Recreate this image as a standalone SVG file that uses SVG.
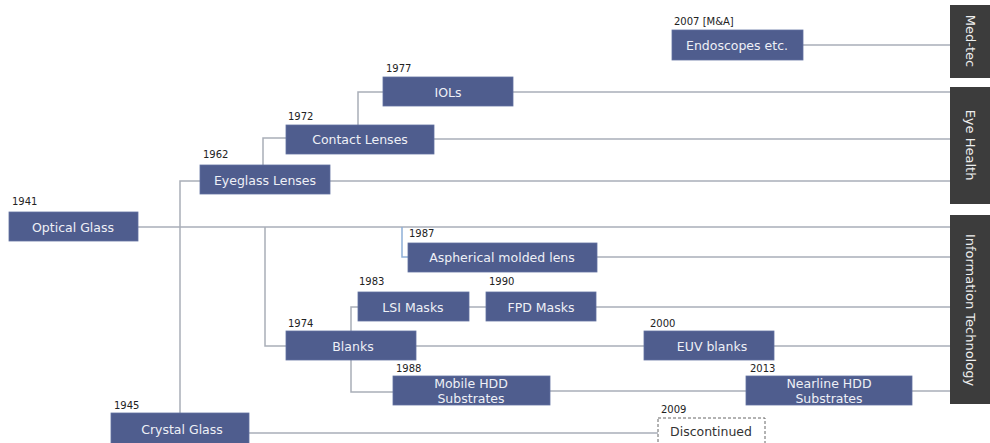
<svg xmlns="http://www.w3.org/2000/svg" width="990" height="443" viewBox="0 0 990 443">
<style>
.box{fill:#4f5d8e;stroke:#6272a0;stroke-width:0.8}
.bt{font-family:"DejaVu Sans",Verdana,sans-serif;font-size:12.5px;fill:#eef0f6;text-anchor:middle}
.yr{font-family:"DejaVu Sans",Verdana,sans-serif;font-size:10px;fill:#222}
.bar{fill:#3c3c3c}
.st{font-family:"DejaVu Sans",Verdana,sans-serif;font-size:13px;fill:#eeeeee;text-anchor:middle}
.ln{fill:none;stroke:#a9aeb8;stroke-width:1.5}
.lb{fill:none;stroke:#8fb0d8;stroke-width:1.5}
</style>
<rect width="990" height="443" fill="#ffffff"/>
<g id="connectors">
<path class="ln" d="M138 227H950"/>
<path class="ln" d="M180 413V181H200"/>
<path class="ln" d="M330 181H950"/>
<path class="ln" d="M263 165V138H286"/>
<path class="ln" d="M434 139H950"/>
<path class="ln" d="M358 125V92H383"/>
<path class="ln" d="M513 92H950"/>
<path class="ln" d="M803 45H950"/>
<path class="ln" d="M265 227V346H286"/>
<path class="lb" d="M402 227V257H408"/>
<path class="ln" d="M597 257H950"/>
<path class="ln" d="M351 331V307H358"/>
<path class="ln" d="M351 360V392H393"/>
<path class="ln" d="M469 307H486"/>
<path class="ln" d="M596 307H950"/>
<path class="ln" d="M416 346H644"/>
<path class="ln" d="M774 346H950"/>
<path class="ln" d="M550 391H746"/>
<path class="ln" d="M912 391H950"/>
<path class="ln" d="M249 433H658"/>
</g>
<g id="med-tec"><rect class="bar" x="950" y="5" width="40" height="73"/><text class="st" transform="translate(966 41) rotate(90)">Med-tec</text></g>
<g id="eye-health"><rect class="bar" x="950" y="87" width="40" height="117"/><text class="st" transform="translate(966 145) rotate(90)">Eye Health</text></g>
<g id="information-technology"><rect class="bar" x="950" y="215" width="40" height="189"/><text class="st" transform="translate(966 310) rotate(90)">Information Technology</text></g>
<g id="optical-glass"><text class="yr" x="12" y="205">1941</text><rect class="box" x="9" y="212" width="129" height="29"/><text class="bt" x="73" y="231.5">Optical Glass</text></g>
<g id="eyeglass-lenses"><text class="yr" x="203" y="158">1962</text><rect class="box" x="200" y="165" width="130" height="29"/><text class="bt" x="265" y="184.5">Eyeglass Lenses</text></g>
<g id="contact-lenses"><text class="yr" x="288" y="120">1972</text><rect class="box" x="286" y="125" width="148" height="29"/><text class="bt" x="360" y="144">Contact Lenses</text></g>
<g id="iols"><text class="yr" x="386" y="72">1977</text><rect class="box" x="383" y="77" width="130" height="29"/><text class="bt" x="448" y="96.5">IOLs</text></g>
<g id="endoscopes"><text class="yr" x="674" y="25">2007 [M&amp;A]</text><rect class="box" x="672" y="30" width="131" height="30"/><text class="bt" x="737" y="50">Endoscopes etc.</text></g>
<g id="aspherical"><text class="yr" x="409" y="237">1987</text><rect class="box" x="408" y="243" width="189" height="29"/><text class="bt" x="502" y="262">Aspherical molded lens</text></g>
<g id="lsi-masks"><text class="yr" x="359" y="285">1983</text><rect class="box" x="358" y="292" width="111" height="29"/><text class="bt" x="413" y="311.5">LSI Masks</text></g>
<g id="fpd-masks"><text class="yr" x="489" y="285">1990</text><rect class="box" x="486" y="292" width="110" height="29"/><text class="bt" x="541" y="311.5">FPD Masks</text></g>
<g id="blanks"><text class="yr" x="288" y="327">1974</text><rect class="box" x="286" y="331" width="130" height="29"/><text class="bt" x="353" y="350.5">Blanks</text></g>
<g id="euv-blanks"><text class="yr" x="650" y="327">2000</text><rect class="box" x="644" y="331" width="130" height="29"/><text class="bt" x="712" y="350.5">EUV blanks</text></g>
<g id="mobile-hdd"><text class="yr" x="396" y="372">1988</text><rect class="box" x="393" y="376" width="157" height="29"/><text class="bt" x="471" y="388">Mobile HDD</text><text class="bt" x="471" y="403">Substrates</text></g>
<g id="nearline-hdd"><text class="yr" x="750" y="372">2013</text><rect class="box" x="746" y="376" width="166" height="29"/><text class="bt" x="829" y="388">Nearline HDD</text><text class="bt" x="829" y="403">Substrates</text></g>
<g id="crystal-glass"><text class="yr" x="114" y="409">1945</text><rect class="box" x="111" y="413" width="138" height="32"/><text class="bt" x="182" y="433.5">Crystal Glass</text></g>
<g id="discontinued"><text class="yr" x="661" y="413">2009</text><rect x="658" y="418" width="107" height="30" fill="#ffffff" stroke="#666" stroke-width="1" stroke-dasharray="3,2"/><text class="bt" x="711" y="436" style="fill:#333">Discontinued</text></g>
</svg>
